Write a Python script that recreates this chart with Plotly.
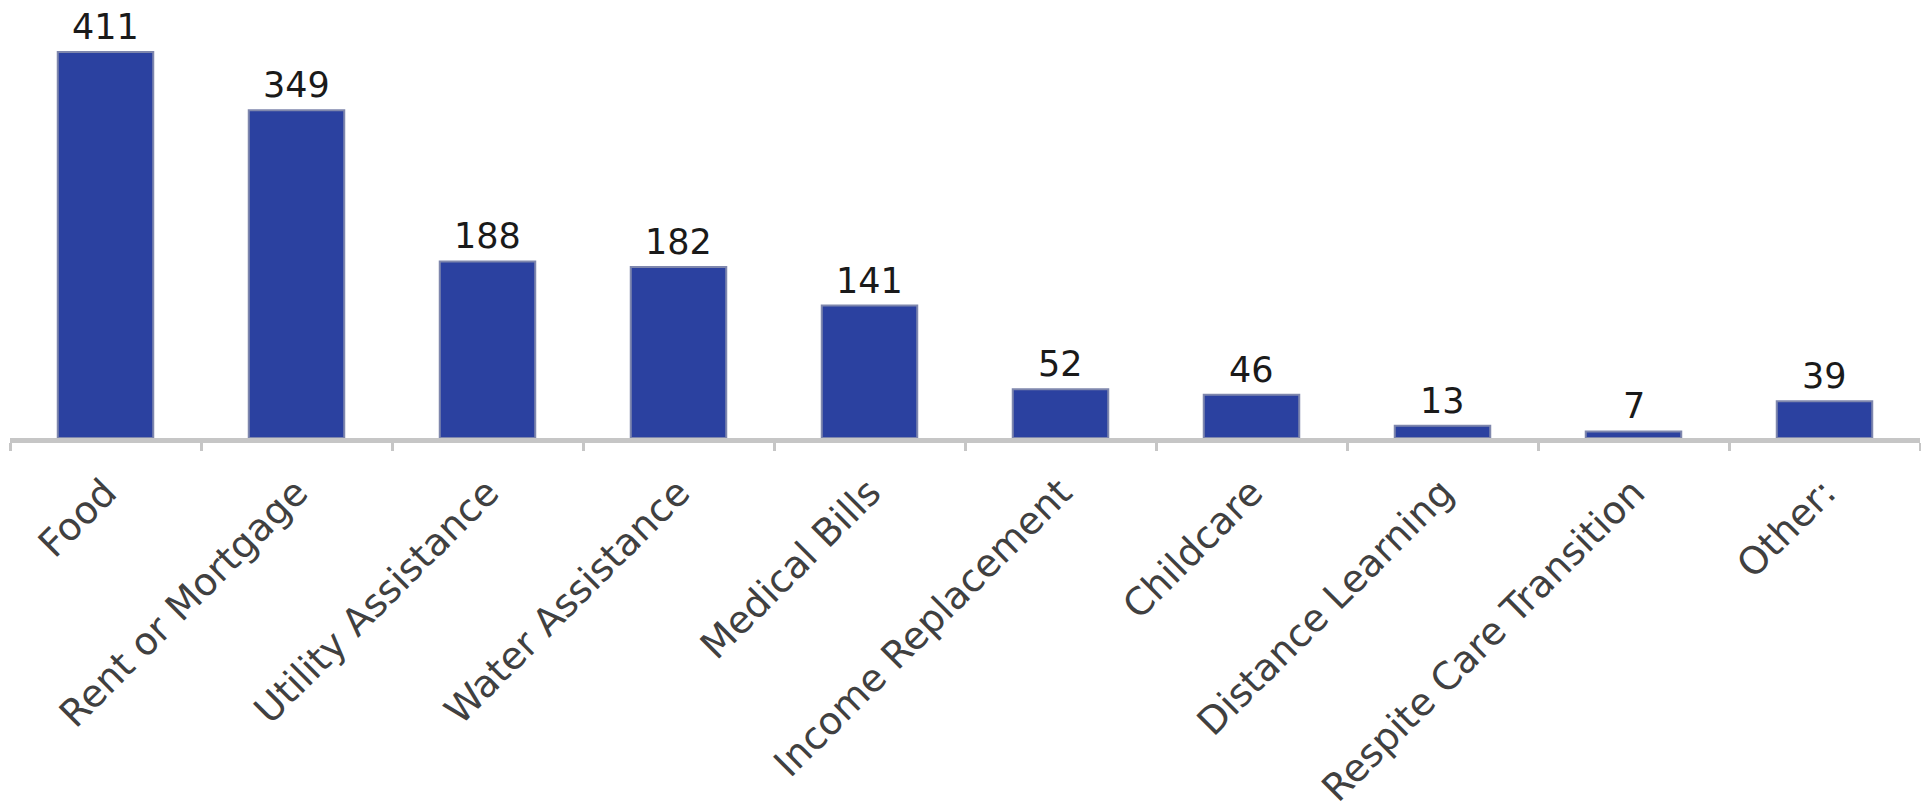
import plotly.graph_objects as go

categories = ["Food", "Rent or Mortgage", "Utility Assistance", "Water Assistance",
              "Medical Bills", "Income Replacement", "Childcare", "Distance Learning",
              "Respite Care Transition", "Other:"]
values = [411, 349, 188, 182, 141, 52, 46, 13, 7, 39]

fig = go.Figure(go.Bar(
    x=categories, y=values,
    marker=dict(color="#2B41A0", line=dict(color="#7f87ad", width=2)),
    hoverinfo="x+y",
))

for c, v in zip(categories, values):
    fig.add_annotation(
        x=c, y=v, text=str(v), showarrow=False,
        xanchor="center", yanchor="bottom", yshift=3,
        font=dict(family="DejaVu Sans", size=35, color="#1a1a1a"),
    )

fig.update_layout(
    width=1921, height=811,
    margin=dict(l=10, r=1, t=6, b=373),
    paper_bgcolor="white", plot_bgcolor="white",
    bargap=0.50, showlegend=False,
    xaxis=dict(
        type="category", tickson="boundaries", automargin=False,
        showline=True, linecolor="#c6c6c6", linewidth=5,
        ticks="outside", ticklen=8, tickwidth=3, tickcolor="#c6c6c6",
        tickangle=-45, ticklabelstandoff=12,
        tickfont=dict(family="DejaVu Sans", size=38, color="#404040"),
        showgrid=False, zeroline=False,
    ),
    yaxis=dict(range=[0, 460], visible=False, showgrid=False, zeroline=False,
               automargin=False),
)

fig.write_html(
    "out.html",
    config={"displayModeBar": False},
    post_script="document.body.style.margin='0';document.body.style.overflow='hidden';",
)
